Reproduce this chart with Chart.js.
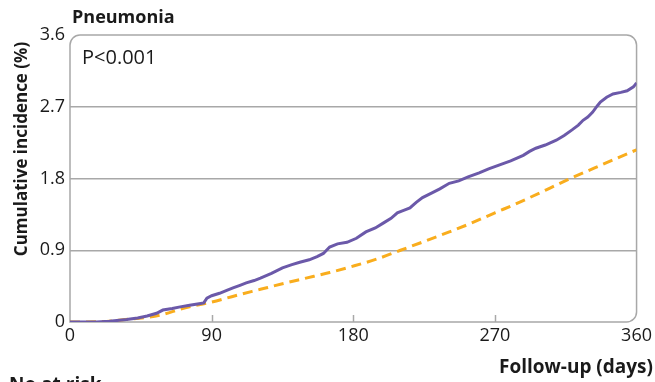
<!DOCTYPE html>
<html>
<head>
<meta charset="utf-8">
<script src="https://cdn.jsdelivr.net/npm/chart.js@4.4.1/dist/chart.umd.min.js"></script>
<style>
  html, body { margin: 0; padding: 0; background: #fff; }
  #wrap { width: 655px; height: 382px; position: relative; }
</style>
</head>
<body>
<div id="wrap"><canvas id="kmChart" width="655" height="382"></canvas></div>
<script>
// tick values
const xTicks = [0, 90, 180, 270, 360];
const yTicks = [0, 0.9, 1.8, 2.7, 3.6];

// exposed group (solid purple)
const exposedDays = [0, 17, 25, 36, 43, 49, 55, 59, 65, 70, 76, 82, 85, 87, 90, 95, 100, 104, 108, 112,
    117, 121, 128, 135, 141, 146, 152, 157, 161, 165, 170, 176, 182, 188, 194, 199, 204, 208, 212, 216,
    220, 224, 230, 235, 241, 247, 253, 260, 266, 273, 280, 288, 292, 296, 302, 309, 314, 319, 323, 326,
    329, 332, 335, 337, 341, 345, 350, 354, 358, 360];
const exposedPct = [0, 0, 0.01, 0.03, 0.05, 0.075, 0.11, 0.15, 0.17, 0.19, 0.21, 0.23, 0.24, 0.30, 0.33, 0.36, 0.40, 0.43, 0.46, 0.49,
    0.52, 0.55, 0.61, 0.68, 0.72, 0.75, 0.78, 0.82, 0.86, 0.94, 0.98, 1.00, 1.05, 1.13, 1.18, 1.24, 1.30, 1.37, 1.40, 1.43,
    1.50, 1.56, 1.62, 1.67, 1.74, 1.77, 1.82, 1.87, 1.92, 1.97, 2.02, 2.09, 2.14, 2.18, 2.22, 2.28, 2.34, 2.41, 2.47, 2.53,
    2.57, 2.63, 2.71, 2.76, 2.82, 2.86, 2.88, 2.90, 2.95, 3.00];

// comparison group (dashed orange)
const controlDays = [0, 20, 35, 50, 60, 70, 78, 90, 105, 121, 135, 150, 165, 178, 195, 210, 225, 241, 255, 270,
    282, 292, 305, 319, 333, 347, 360];
const controlPct = [0, 0.005, 0.03, 0.06, 0.10, 0.16, 0.20, 0.25, 0.33, 0.41, 0.48, 0.55, 0.62, 0.69, 0.79, 0.90, 1.01, 1.13, 1.24, 1.37,
    1.47, 1.56, 1.68, 1.81, 1.93, 2.05, 2.16];

const FONT = "'Open Sans', 'Noto Sans', sans-serif";
const GRID = "#a8a8a8";

function toPoints(xs, ys) {
    return xs.map((x, i) => ({ x: x, y: ys[i] }));
}

// rounded frame, inner x ticks and free text
const framePlugin = {
    id: "frame",
    beforeDatasetsDraw(chart) {
        const { ctx, chartArea: a, scales } = chart;
        ctx.save();
        ctx.strokeStyle = GRID;
        ctx.lineWidth = 1.5;
        ctx.beginPath();
        ctx.roundRect(a.left, a.top, a.right - a.left, a.bottom - a.top, [10, 10, 10, 0]);
        ctx.stroke();
        xTicks.slice(1, -1).forEach(t => {
            const px = Math.round(scales.x.getPixelForValue(t)) + 0.5;
            ctx.beginPath();
            ctx.moveTo(px, a.bottom);
            ctx.lineTo(px, a.bottom - 7);
            ctx.stroke();
        });
        ctx.restore();
    },
    afterDraw(chart) {
        const { ctx } = chart;
        ctx.save();
        ctx.fillStyle = "#1a1a1a";
        ctx.textBaseline = "alphabetic";

        ctx.font = "bold 18px " + FONT;
        ctx.textAlign = "left";
        ctx.fillText("Pneumonia", 72, 23);

        ctx.font = "20px " + FONT;
        ctx.fillText("P<0.001", 82, 64);

        ctx.font = "bold 19px " + FONT;
        ctx.textAlign = "right";
        ctx.fillText("Follow-up (days)", 653, 373);

        ctx.textAlign = "left";
        ctx.fillText("No at risk", 9, 391);

        ctx.font = "bold 17px " + FONT;
        ctx.translate(27, 149);
        ctx.rotate(-Math.PI / 2);
        ctx.textAlign = "center";
        ctx.fillText("Cumulative incidence (%)", 0, 0);
        ctx.restore();
    }
};

const ctx = document.getElementById("kmChart").getContext("2d");
new Chart(ctx, {
    type: "line",
    data: {
        datasets: [
            {
                label: "Exposed",
                data: toPoints(exposedDays, exposedPct),
                borderColor: "#6b59a9",
                borderWidth: 3,
                pointRadius: 0,
                fill: false,
                tension: 0
            },
            {
                label: "Comparison",
                data: toPoints(controlDays, controlPct),
                borderColor: "#f9ad1d",
                borderWidth: 3,
                borderDash: [10, 6],
                pointRadius: 0,
                fill: false,
                cubicInterpolationMode: "monotone"
            }
        ]
    },
    options: {
        responsive: false,
        animation: false,
        layout: { padding: { top: 35, right: 18, left: 0, bottom: 0 } },
        plugins: { legend: { display: false }, tooltip: { enabled: false } },
        scales: {
            x: {
                type: "linear",
                min: 0,
                max: 360,
                afterFit(scale) { scale.height = 60; },
                afterBuildTicks(scale) { scale.ticks = xTicks.map(v => ({ value: v })); },
                grid: { display: false, drawTicks: false },
                border: { display: false },
                ticks: {
                    padding: 3,
                    color: "#1a1a1a",
                    font: { family: FONT, size: 18 },
                    maxRotation: 0,
                    autoSkip: false
                }
            },
            y: {
                min: 0,
                max: 3.6,
                afterFit(scale) { scale.width = 70; },
                afterBuildTicks(scale) { scale.ticks = yTicks.map(v => ({ value: v })); },
                grid: {
                    drawTicks: false,
                    lineWidth: 1.5,
                    color: c => (c.tick && (c.tick.value === 0 || c.tick.value === 3.6)) ? "rgba(0,0,0,0)" : GRID
                },
                border: { display: false },
                ticks: {
                    padding: 5,
                    color: "#1a1a1a",
                    font: { family: FONT, size: 18 },
                    callback: v => String(v)
                }
            }
        }
    },
    plugins: [framePlugin]
});
</script>
</body>
</html>
